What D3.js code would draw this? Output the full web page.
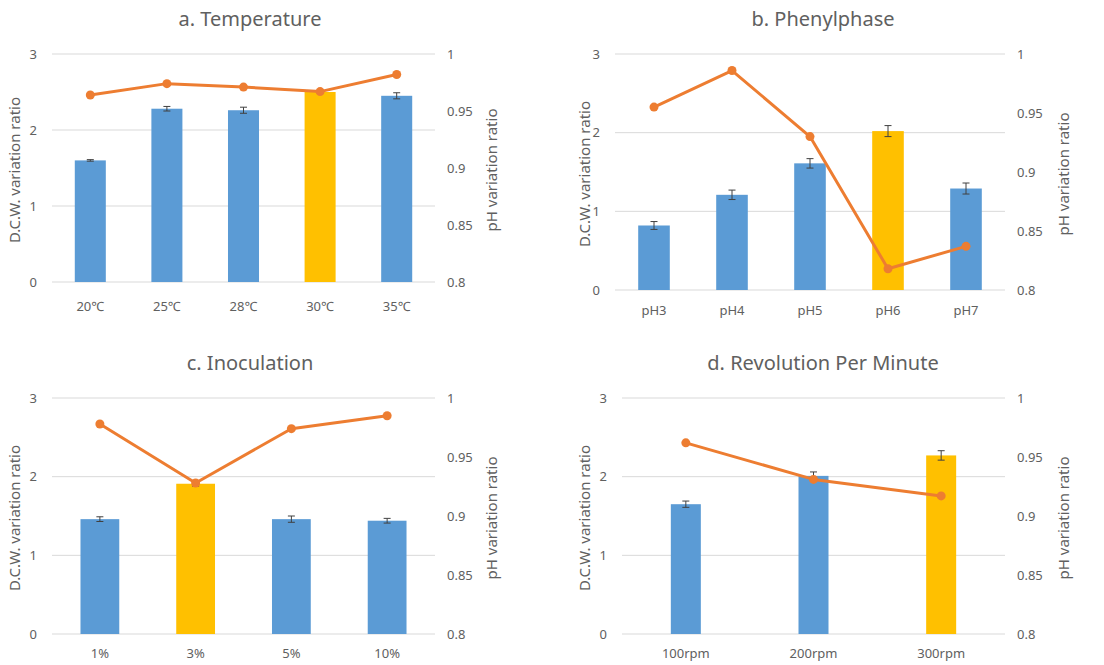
<!DOCTYPE html>
<html>
<head>
<meta charset="utf-8">
<script src="https://cdn.jsdelivr.net/npm/d3@7"></script>
<style>
  body { margin: 0; background: #fff; }
  svg text { font-family: "Noto Sans", "Open Sans", sans-serif; fill: #606060; }
</style>
</head>
<body>
<svg id="chart" width="1104" height="665"></svg>
<script>
// a. Temperature
var tempCats = ["20℃", "25℃", "28℃", "30℃", "35℃"];
var tempDcw = [1.6, 2.28, 2.26, 2.5, 2.45];
var tempErr = [0.01, 0.03, 0.04, 0.01, 0.04];
var tempPh = [0.964, 0.974, 0.971, 0.967, 0.982];
var tempBest = "30℃";

// b. Phenylphase
var phCats = ["pH3", "pH4", "pH5", "pH6", "pH7"];
var phDcw = [0.82, 1.21, 1.61, 2.02, 1.29];
var phErr = [0.05, 0.06, 0.06, 0.07, 0.07];
var phPh = [0.955, 0.986, 0.930, 0.818, 0.837];
var phBest = "pH6";

// c. Inoculation
var inoCats = ["1%", "3%", "5%", "10%"];
var inoDcw = [1.46, 1.91, 1.46, 1.44];
var inoErr = [0.03, 0.03, 0.04, 0.03];
var inoPh = [0.978, 0.928, 0.974, 0.985];
var inoBest = "3%";

// d. Revolution Per Minute
var rpmCats = ["100rpm", "200rpm", "300rpm"];
var rpmDcw = [1.65, 2.01, 2.27];
var rpmErr = [0.04, 0.05, 0.06];
var rpmPh = [0.962, 0.931, 0.917];
var rpmBest = "300rpm";

var dcwTicks = [0, 1, 2, 3];
var phTicks = [0.8, 0.85, 0.9, 0.95, 1];

var blue = "#5B9BD5", gold = "#FFC000", orange = "#ED7D31", grid = "#D9D9D9";

var svg = d3.select("#chart");

function panel(title, cats, dcw, err, ph, best, box) {
  var g = svg.append("g");
  var x = d3.scaleBand().domain(cats).range([box.left, box.right]).padding(0);
  var y = d3.scaleLinear().domain([0, 3]).range([box.bottom, box.top]);
  var y2 = d3.scaleLinear().domain([0.8, 1]).range([box.bottom, box.top]);
  var bw = x.bandwidth() * (cats.length > 3 ? 0.405 : 0.235);

  // gridlines
  g.selectAll("line.grid").data(dcwTicks).enter().append("line")
    .attr("x1", box.left).attr("x2", box.right)
    .attr("y1", function(d){ return y(d); }).attr("y2", function(d){ return y(d); })
    .attr("stroke", grid).attr("stroke-width", 1);

  // left ticks
  g.selectAll("text.lt").data(dcwTicks).enter().append("text")
    .attr("x", box.left - 15).attr("y", function(d){ return y(d); })
    .attr("dy", "0.35em").attr("text-anchor", "end")
    .style("font-size", "13px").text(function(d){ return d; });

  // right ticks
  g.selectAll("text.rt").data(phTicks).enter().append("text")
    .attr("x", box.right + 12).attr("y", function(d){ return y2(d); })
    .attr("dy", "0.35em").attr("text-anchor", "start")
    .style("font-size", "13px").text(function(d){ return d; });

  // bars
  var data = cats.map(function(c, i){ return {cat: c, v: dcw[i], e: err[i], p: ph[i]}; });
  g.selectAll("rect").data(data).enter().append("rect")
    .attr("x", function(d){ return x(d.cat) + x.bandwidth() / 2 - bw / 2; })
    .attr("y", function(d){ return y(d.v); })
    .attr("width", bw)
    .attr("height", function(d){ return y(0) - y(d.v); })
    .attr("fill", function(d){ return d.cat === best ? gold : blue; });

  // error bars
  var eb = g.selectAll("g.err").data(data).enter().append("g")
    .attr("stroke", "#404040").attr("stroke-width", 1);
  eb.append("line")
    .attr("x1", function(d){ return x(d.cat) + x.bandwidth() / 2; })
    .attr("x2", function(d){ return x(d.cat) + x.bandwidth() / 2; })
    .attr("y1", function(d){ return y(d.v - d.e); })
    .attr("y2", function(d){ return y(d.v + d.e); });
  [-1, 1].forEach(function(s){
    eb.append("line")
      .attr("x1", function(d){ return x(d.cat) + x.bandwidth() / 2 - 3.5; })
      .attr("x2", function(d){ return x(d.cat) + x.bandwidth() / 2 + 3.5; })
      .attr("y1", function(d){ return y(d.v + s * d.e); })
      .attr("y2", function(d){ return y(d.v + s * d.e); });
  });

  // pH line
  var line = d3.line()
    .x(function(d){ return x(d.cat) + x.bandwidth() / 2; })
    .y(function(d){ return y2(d.p); });
  g.append("path").datum(data).attr("d", line)
    .attr("fill", "none").attr("stroke", orange).attr("stroke-width", 3)
    .attr("stroke-linejoin", "round");
  g.selectAll("circle").data(data).enter().append("circle")
    .attr("cx", function(d){ return x(d.cat) + x.bandwidth() / 2; })
    .attr("cy", function(d){ return y2(d.p); })
    .attr("r", 4.5).attr("fill", orange);

  // x labels
  g.selectAll("text.xl").data(cats).enter().append("text")
    .attr("x", function(d){ return x(d) + x.bandwidth() / 2; })
    .attr("y", box.xlab).attr("text-anchor", "middle")
    .style("font-size", "13px").text(function(d){ return d; });

  // title
  g.append("text").attr("x", box.tx).attr("y", box.ty)
    .attr("text-anchor", "middle").style("font-size", "20px").text(title);

  // axis titles
  var cy = (box.top + box.bottom) / 2 + 2;
  g.append("text")
    .attr("transform", "translate(" + box.lt + "," + cy + ") rotate(-90)")
    .attr("text-anchor", "middle").attr("dy", "0.35em")
    .style("font-size", "15px").text("D.C.W. variation ratio");
  g.append("text")
    .attr("transform", "translate(" + box.rt + "," + cy + ") rotate(-90)")
    .attr("text-anchor", "middle").attr("dy", "0.35em")
    .style("font-size", "15px").text("pH variation ratio");
}

panel("a. Temperature", tempCats, tempDcw, tempErr, tempPh, tempBest,
  {left: 52, right: 435, top: 54, bottom: 282, xlab: 311, tx: 250, ty: 26, lt: 15, rt: 492});
panel("b. Phenylphase", phCats, phDcw, phErr, phPh, phBest,
  {left: 615, right: 1005, top: 54, bottom: 290, xlab: 315, tx: 823, ty: 26, lt: 585, rt: 1064});
panel("c. Inoculation", inoCats, inoDcw, inoErr, inoPh, inoBest,
  {left: 52, right: 435, top: 398, bottom: 634, xlab: 658, tx: 250, ty: 370, lt: 15, rt: 492});
panel("d. Revolution Per Minute", rpmCats, rpmDcw, rpmErr, rpmPh, rpmBest,
  {left: 622, right: 1005, top: 398, bottom: 634, xlab: 658, tx: 823, ty: 370, lt: 585, rt: 1064});
</script>
</body>
</html>
